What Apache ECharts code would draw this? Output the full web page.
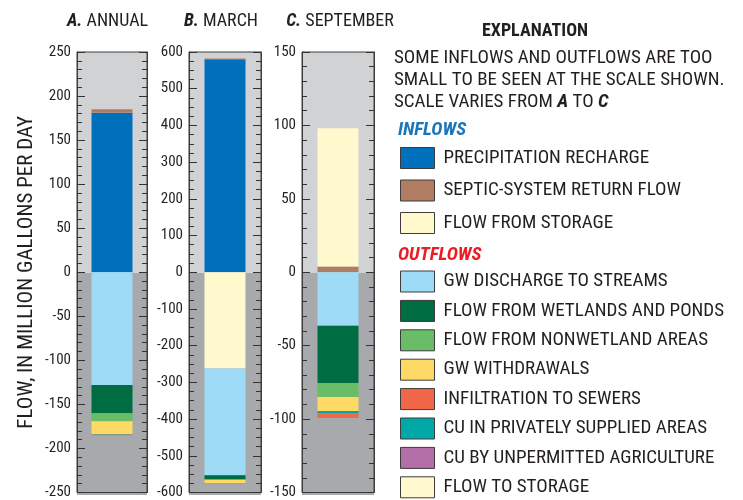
<!DOCTYPE html>
<html>
<head>
<meta charset="utf-8">
<script src="https://cdn.jsdelivr.net/npm/echarts@6/dist/echarts.min.js"></script>
<style>
  html, body { margin: 0; padding: 0; background: #fff; }
  #wrap { position: relative; width: 743px; height: 500px; }
  #back, #chart { position: absolute; left: 0; top: 0; width: 743px; height: 500px; }
</style>
</head>
<body>
<div id="wrap">
  <div id="back"></div>
  <div id="chart"></div>
</div>
<script>
// flow components, in the order they stack away from zero
const inflowNames = ['PRECIPITATION RECHARGE', 'SEPTIC-SYSTEM RETURN FLOW', 'FLOW FROM STORAGE'];
const outflowNames = ['GW DISCHARGE TO STREAMS', 'FLOW FROM WETLANDS AND PONDS', 'FLOW FROM NONWETLAND AREAS',
  'GW WITHDRAWALS', 'INFILTRATION TO SEWERS', 'CU IN PRIVATELY SUPPLIED AREAS', 'CU BY UNPERMITTED AGRICULTURE', 'FLOW TO STORAGE'];
const stackOrder = ['PRECIPITATION RECHARGE', 'SEPTIC-SYSTEM RETURN FLOW', 'FLOW FROM STORAGE',
  'FLOW TO STORAGE', 'GW DISCHARGE TO STREAMS', 'FLOW FROM WETLANDS AND PONDS', 'FLOW FROM NONWETLAND AREAS',
  'GW WITHDRAWALS', 'CU IN PRIVATELY SUPPLIED AREAS', 'INFILTRATION TO SEWERS', 'CU BY UNPERMITTED AGRICULTURE'];

// values in million gallons per day, same order as stackOrder
const annualVals = [181, 4, 0, 0, -128, -32, -9, -15, -0.5, -0.5, 0];
const marchVals = [580, 2, 0, -262, -291, -11, -2, -9, -0.3, -0.5, 0];
const septemberVals = [0, 4, 94, 0, -36.5, -39, -9.5, -9.5, -1.5, -3.2, 0];

const panelTitles = ['A.|ANNUAL', 'B.|MARCH', 'C.|SEPTEMBER'];
const axisMins = [-250, -600, -150];
const axisMaxs = [250, 600, 150];
const axisSteps = [50, 100, 50];
const minorSplits = [5, 4, 5];

const colors = {
  'PRECIPITATION RECHARGE': '#0070bd',
  'SEPTIC-SYSTEM RETURN FLOW': '#b07d63',
  'FLOW FROM STORAGE': '#fff9cd',
  'GW DISCHARGE TO STREAMS': '#9ddbf6',
  'FLOW FROM WETLANDS AND PONDS': '#006c41',
  'FLOW FROM NONWETLAND AREAS': '#6abd67',
  'GW WITHDRAWALS': '#fed966',
  'INFILTRATION TO SEWERS': '#f0674a',
  'CU IN PRIVATELY SUPPLIED AREAS': '#00a8a8',
  'CU BY UNPERMITTED AGRICULTURE': '#b46ea8',
  'FLOW TO STORAGE': '#fff9cd'
};

const font = "'Liberation Sans Narrow', 'Roboto Condensed', Roboto, sans-serif";
const ink = '#231f20';
const panelVals = [annualVals, marchVals, septemberVals];
const gridLefts = [77, 189, 302];
const gridWidths = [70, 72, 72];
const titleCenters = [107.5, 221, 340];

function gridBox(p) {
  return {left: gridLefts[p], width: gridWidths[p], top: 52, height: 443};
}

// back layer: only the two-tone panel backgrounds (zero sits mid-height in every panel)
const backGrids = [], backX = [], backY = [];
panelVals.forEach((vals, p) => {
  backGrids.push(Object.assign(gridBox(p), {
    show: true, borderWidth: 0,
    backgroundColor: new echarts.graphic.LinearGradient(0, 0, 0, 1, [
      {offset: 0, color: '#d1d2d4'}, {offset: 0.5, color: '#d1d2d4'},
      {offset: 0.5, color: '#a7a9ac'}, {offset: 1, color: '#a7a9ac'}])
  }));
  backX.push({type: 'category', gridIndex: p, data: ['x'], show: false});
  backY.push({type: 'value', gridIndex: p, min: axisMins[p], max: axisMaxs[p], show: false});
});

const grids = [], xAxes = [], yAxes = [], series = [], graphics = [];

panelVals.forEach((vals, p) => {
  grids.push(Object.assign(gridBox(p), {
    show: true, borderColor: '#3c3c3c', borderWidth: 1, backgroundColor: 'transparent'
  }));
  xAxes.push({type: 'category', gridIndex: p, data: ['x'], show: false});
  ['left', 'right'].forEach(side => {
    yAxes.push({
      type: 'value', gridIndex: p, position: side,
      min: axisMins[p], max: axisMaxs[p], interval: axisSteps[p],
      name: (p === 0 && side === 'left') ? 'FLOW, IN MILLION GALLONS PER DAY' : '',
      nameLocation: 'middle', nameGap: 40,
      nameTextStyle: {fontFamily: font, fontSize: 21, color: ink},
      axisLine: {show: true, lineStyle: {color: '#3c3c3c', width: 1}},
      axisTick: {show: true, inside: true, length: 8, lineStyle: {color: '#333', width: 1}},
      minorTick: {show: true, splitNumber: minorSplits[p], length: 5, lineStyle: {color: '#333', width: 1}},
      splitLine: {show: false},
      axisLabel: {show: side === 'left', fontFamily: font, fontSize: 15, color: ink, margin: 6}
    });
  });
  stackOrder.forEach((name, i) => {
    series.push({
      name: name, type: 'bar', stack: 'panel' + p,
      xAxisIndex: p, yAxisIndex: p * 2,
      barWidth: 41,
      itemStyle: {color: colors[name]},
      emphasis: {disabled: true},
      data: [vals[i]]
    });
  });
  const parts = panelTitles[p].split('|');
  graphics.push({
    type: 'text', x: titleCenters[p], y: 21,
    style: {
      text: '{b|' + parts[0] + '} ' + parts[1],
      font: '18px ' + font, fill: ink, align: 'center', verticalAlign: 'middle',
      rich: {b: {fontFamily: font, fontSize: 18, fontWeight: 'bold', fontStyle: 'italic', fill: ink}}
    }
  });
});

// explanation block
graphics.push({type: 'text', x: 535, y: 31,
  style: {text: 'EXPLANATION', font: 'bold 18px ' + font, fill: ink, align: 'center', verticalAlign: 'middle'}});
graphics.push({type: 'text', left: 394, top: 47,
  style: {
    text: 'SOME INFLOWS AND OUTFLOWS ARE TOO\nSMALL TO BE SEEN AT THE SCALE SHOWN.\nSCALE VARIES FROM {b|A} TO {b|C}',
    font: '19px ' + font, fill: ink, lineHeight: 22,
    rich: {b: {fontFamily: font, fontSize: 19, fontWeight: 'bold', fontStyle: 'italic', fill: ink, lineHeight: 22}}
  }});
graphics.push({type: 'text', x: 398, y: 130,
  style: {text: 'INFLOWS', font: 'italic bold 19px ' + font, fill: '#1b75bb', verticalAlign: 'middle'}});
graphics.push({type: 'text', x: 398, y: 255,
  style: {text: 'OUTFLOWS', font: 'italic bold 19px ' + font, fill: '#ec1c24', verticalAlign: 'middle'}});

const legendBase = {
  orient: 'vertical', left: 395, height: 340, itemWidth: 34, itemHeight: 21,
  icon: 'rect', selectedMode: false,
  itemStyle: {borderColor: '#3c3c3c', borderWidth: 1},
  textStyle: {fontFamily: font, fontSize: 19, lineHeight: 21, color: ink, padding: [0, 0, 0, 4]}
};

const backChart = echarts.init(document.getElementById('back'));
backChart.setOption({
  animation: false,
  backgroundColor: '#fff',
  grid: backGrids,
  xAxis: backX,
  yAxis: backY,
  series: []
});

const option = {
  animation: false,
  backgroundColor: 'transparent',
  grid: grids,
  xAxis: xAxes,
  yAxis: yAxes,
  legend: [
    Object.assign({}, legendBase, {top: 142, itemGap: 10.5, data: inflowNames}),
    Object.assign({}, legendBase, {top: 265.5, itemGap: 7.4, data: outflowNames})
  ],
  graphic: graphics,
  series: series
};

const myChart = echarts.init(document.getElementById('chart'));
myChart.setOption(option);
</script>
</body>
</html>
